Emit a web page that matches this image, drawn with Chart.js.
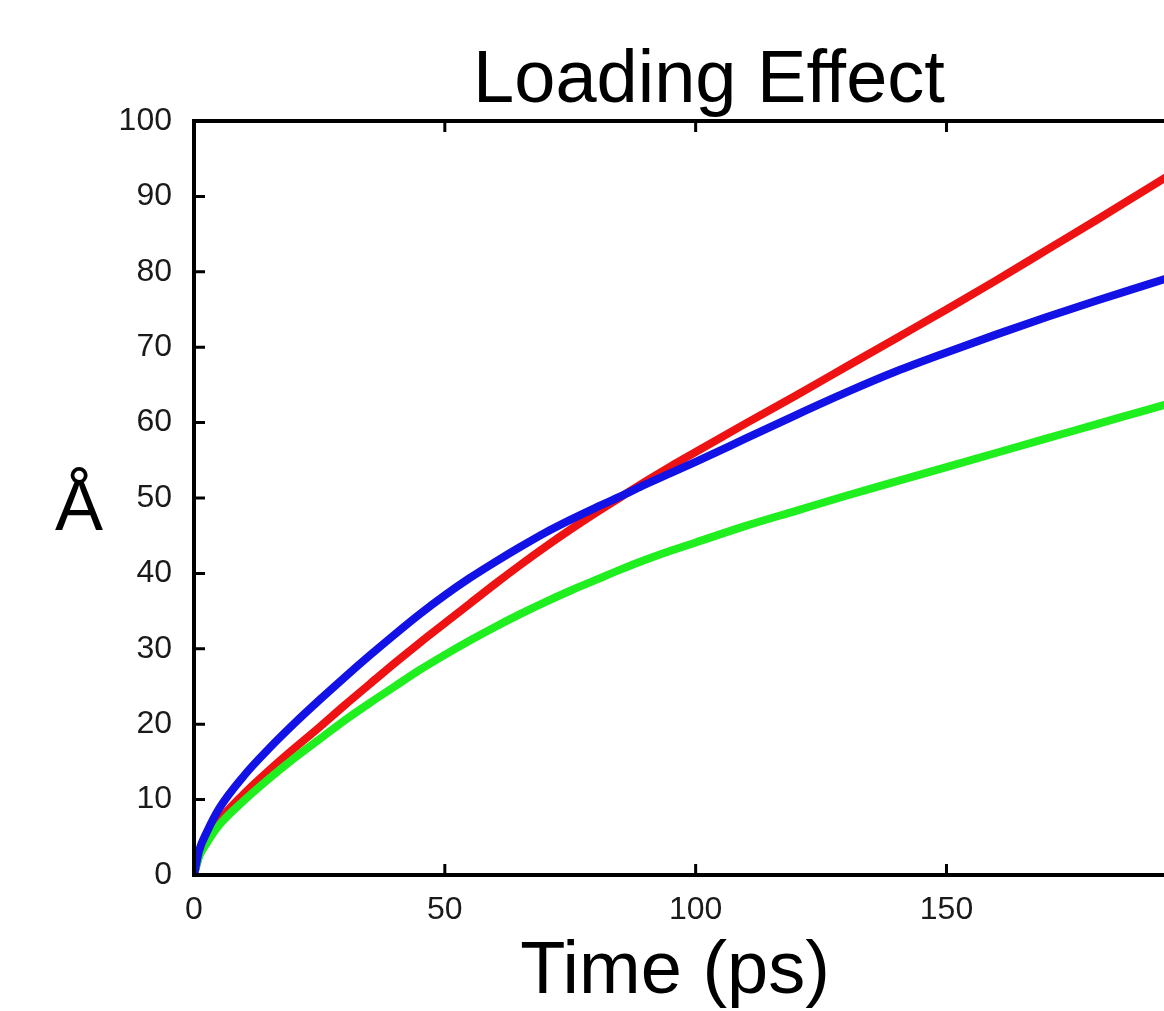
<!DOCTYPE html>
<html>
<head>
<meta charset="utf-8">
<script src="https://cdn.jsdelivr.net/npm/chart.js@4/dist/chart.umd.min.js"></script>
<style>
  html, body { margin: 0; padding: 0; background: #fff; overflow: hidden; }
  #wrap { width: 1240px; height: 1011px; }
</style>
</head>
<body>
<div id="wrap"><canvas id="c" width="1240" height="1011"></canvas></div>
<script>
// ---- data ----
const titleText = "Loading Effect";
const xTitleText = "Time (ps)";
const yTitleText = "Å";

const timePs = [0, 1, 2.5, 5, 10, 15, 20, 25, 30, 35, 40, 45, 50, 55, 60, 65, 70, 75, 80, 85, 90, 95, 100, 110, 120, 130, 140, 150, 160, 170, 180, 190, 200];

const redValues   = [0, 2.6, 4.6, 7.2, 10.8, 13.9, 16.8, 19.6, 22.5, 25.3, 28.1, 30.8, 33.4, 36.0, 38.6, 41.1, 43.5, 45.8, 48.0, 50.1, 52.2, 54.2, 56.1, 59.9, 63.6, 67.4, 71.2, 75.0, 78.9, 82.9, 86.9, 91.0, 95.1];
const greenValues = [0, 2.4, 4.2, 6.6, 9.9, 12.8, 15.5, 18.0, 20.5, 22.8, 25.0, 27.2, 29.2, 31.1, 32.9, 34.6, 36.2, 37.7, 39.1, 40.5, 41.8, 43.0, 44.1, 46.3, 48.3, 50.3, 52.2, 54.1, 56.0, 57.9, 59.8, 61.7, 63.6];
const blueValues  = [0, 3.2, 5.6, 8.8, 13.2, 16.8, 20.1, 23.2, 26.2, 29.1, 31.9, 34.6, 37.1, 39.4, 41.5, 43.5, 45.4, 47.1, 48.7, 50.2, 51.8, 53.3, 54.8, 57.9, 61.0, 64.0, 66.8, 69.3, 71.7, 74.0, 76.2, 78.3, 80.4];

const xTickValues = [0, 50, 100, 150, 200];
const yTickValues = [0, 10, 20, 30, 40, 50, 60, 70, 80, 90, 100];

// ---- helpers ----
const pts = (vals) => timePs.map((t, i) => ({ x: t, y: vals[i] }));

const framePlugin = {
  id: 'frame',
  afterDatasetsDraw(chart) {
    const { ctx, chartArea: a, scales } = chart;
    ctx.save();
    ctx.strokeStyle = '#000';
    ctx.lineWidth = 3;
    ctx.beginPath();
    scales.y.ticks.forEach(t => {
      const y = scales.y.getPixelForValue(t.value);
      ctx.moveTo(a.left, y); ctx.lineTo(a.left + 11, y);
      ctx.moveTo(a.right, y); ctx.lineTo(a.right - 11, y);
    });
    scales.x.ticks.forEach(t => {
      const x = scales.x.getPixelForValue(t.value);
      ctx.moveTo(x, a.bottom); ctx.lineTo(x, a.bottom - 11);
      ctx.moveTo(x, a.top); ctx.lineTo(x, a.top + 11);
    });
    ctx.stroke();
    ctx.lineWidth = 4;
    ctx.strokeRect(a.left, a.top, a.right - a.left, a.bottom - a.top);
    ctx.restore();
  },
  afterDraw(chart) {
    const { ctx, chartArea: a } = chart;
    ctx.save();
    ctx.fillStyle = '#000';
    ctx.textAlign = 'center';
    ctx.textBaseline = 'alphabetic';
    ctx.font = '74px "Liberation Sans", Arial, sans-serif';
    ctx.fillText(titleText, a.left + 515, a.top - 19);
    ctx.fillText(xTitleText, a.left + 481, a.bottom + 118);
    ctx.font = '72px "Liberation Sans", Arial, sans-serif';
    ctx.fillText(yTitleText, a.left - 115, 530);
    ctx.restore();
  }
};

const tickFont = { family: '"Liberation Sans", Arial, sans-serif', size: 32 };

new Chart(document.getElementById('c'), {
  type: 'line',
  data: {
    datasets: [
      { label: 'Blue',  data: pts(blueValues),  borderColor: '#1212e6', borderWidth: 8 },
      { label: 'Green', data: pts(greenValues), borderColor: '#1fee1f', borderWidth: 8 },
      { label: 'Red',   data: pts(redValues),   borderColor: '#ee1212', borderWidth: 8 }
    ]
  },
  options: {
    responsive: false,
    animation: false,
    elements: {
      point: { radius: 0, hoverRadius: 0 },
      line: { cubicInterpolationMode: 'monotone', fill: false, borderCapStyle: 'round', borderJoinStyle: 'round' }
    },
    layout: { padding: { top: 121, right: 36, bottom: 0, left: 0 } },
    plugins: {
      legend: { display: false },
      title: { display: false },
      tooltip: { enabled: false }
    },
    scales: {
      x: {
        type: 'linear',
        min: 0, max: 200,
        grid: { display: false, drawTicks: false },
        border: { display: false },
        afterBuildTicks: (s) => { s.ticks = xTickValues.map(v => ({ value: v })); },
        afterFit: (s) => { s.height = 136; },
        ticks: { color: '#1a1a1a', font: tickFont, padding: 16 }
      },
      y: {
        type: 'linear',
        min: 0, max: 100,
        grid: { display: false, drawTicks: false },
        border: { display: false },
        afterBuildTicks: (s) => { s.ticks = yTickValues.map(v => ({ value: v })); },
        afterFit: (s) => { s.width = 194; },
        ticks: { color: '#1a1a1a', font: tickFont, padding: 22 }
      }
    }
  },
  plugins: [framePlugin]
});
</script>
</body>
</html>
